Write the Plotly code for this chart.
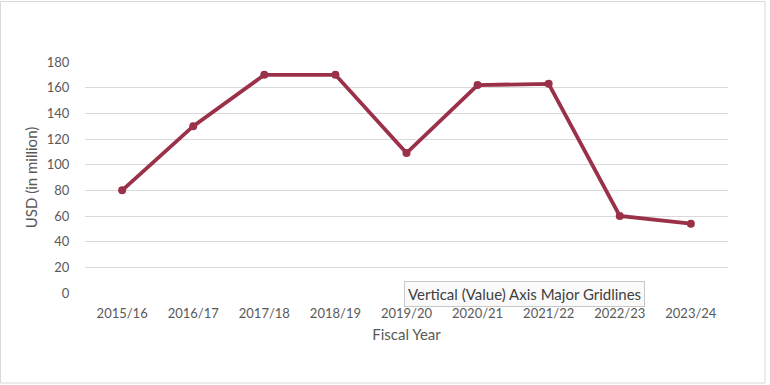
import plotly.graph_objects as go

years = ["2015/16", "2016/17", "2017/18", "2018/19", "2019/20",
         "2020/21", "2021/22", "2022/23", "2023/24"]
usd_million = [80, 130, 170, 170, 109, 162, 163, 60, 54]
y_ticks = [0, 20, 40, 60, 80, 100, 120, 140, 160, 180]

FONT = "Lato, 'Open Sans', sans-serif"
LINE = "#9B3049"

fig = go.Figure(go.Scatter(
    x=years, y=usd_million, mode="lines+markers",
    line=dict(color=LINE, width=3.8),
    marker=dict(color=LINE, size=8),
    hoverinfo="skip",
))

PW, PH = 643.0, 231.0

fig.update_layout(
    width=770, height=385,
    margin=dict(l=85, r=42, t=62, b=92),
    paper_bgcolor="white", plot_bgcolor="white",
    font=dict(family=FONT, size=13, color="#595959"),
    showlegend=False,
    xaxis=dict(
        type="category", showgrid=False, zeroline=False, showline=False,
        ticks="outside", ticklen=8, tickcolor="rgba(0,0,0,0)",
        title=dict(text="Fiscal Year", font=dict(size=15, color="#595959"), standoff=9),
        tickfont=dict(size=13, color="#595959"),
    ),
    yaxis=dict(
        range=[0, 180], tickvals=y_ticks, showgrid=True, gridcolor="#D9D9D9",
        gridwidth=1, zeroline=False, showline=False,
        ticks="outside", ticklen=12, tickcolor="rgba(0,0,0,0)",
        title=dict(text="USD (in million)", font=dict(size=15, color="#595959"), standoff=5),
        tickfont=dict(size=13, color="#595959"),
    ),
    shapes=[dict(type="rect", xref="paper", yref="paper",
                 x0=(0.5 - 85) / PW, x1=(765 - 85) / PW,
                 y0=(293 - 383) / PH, y1=(293 - 1.5) / PH,
                 line=dict(color="#D9D9D9", width=1), fillcolor="rgba(0,0,0,0)")],
    annotations=[dict(
        text="Vertical (Value) Axis Major Gridlines",
        xref="paper", yref="paper", x=(524 - 85) / PW, y=(293 - 294) / PH,
        xanchor="center", yanchor="middle", showarrow=False,
        font=dict(family=FONT, size=15, color="#404040"),
        bgcolor="#FAFAFA", bordercolor="#C8C8C8", borderwidth=1, borderpad=3,
    )],
)

fig.write_html("out.html", config={"displayModeBar": False},
               post_script="document.body.style.margin='0px';")
